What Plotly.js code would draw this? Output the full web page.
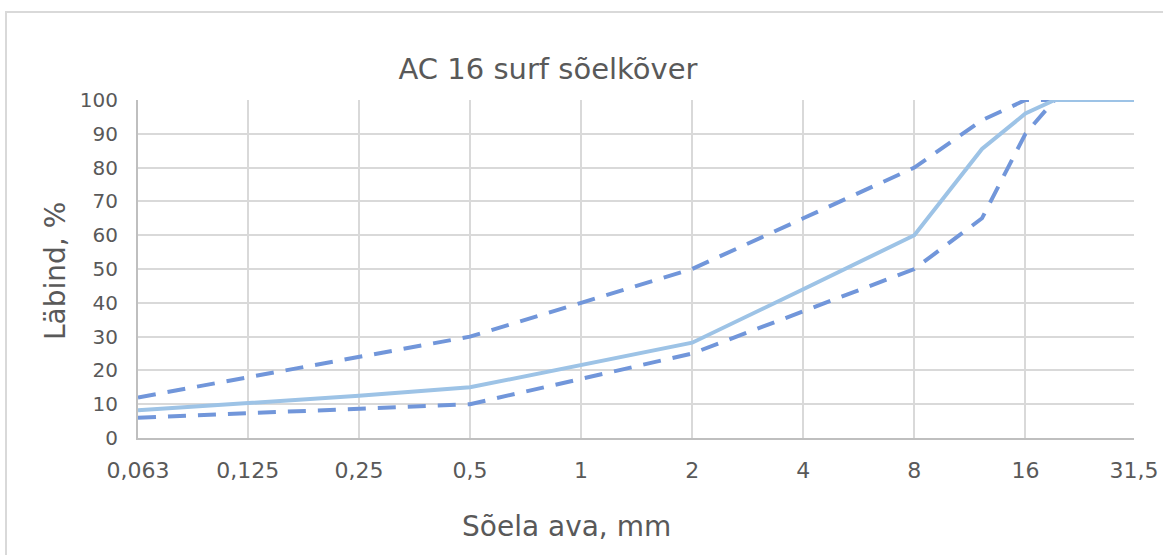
<!DOCTYPE html>
<html>
<head>
<meta charset="utf-8">
<script src="https://cdn.plot.ly/plotly-3.0.1.min.js"></script>
<style>
  html, body { margin: 0; padding: 0; background: #ffffff; overflow: hidden; }
  #chart { position: absolute; left: 0; top: 0; width: 1163px; height: 555px; }
  #frame { position: absolute; left: 5px; top: 11px; width: 1200px; height: 600px;
           border: 2px solid #d9d9d9; pointer-events: none; }
</style>
</head>
<body>
<div id="chart"></div>
<div id="frame"></div>
<script>
// Sieve sizes (mm) and passing percentages
const sieves = [0.063, 0.125, 0.25, 0.5, 1, 2, 4, 8, 12.2, 16, 19.2, 31.5];
const lowerLimit = [6, 7.3, 8.7, 10, 17.5, 25, 37.5, 50, 65, 90, 100, 100];
const upperLimit = [12, 18, 24, 30, 40, 50, 65, 80, 94, 100, 100, 100];
const gradingCurve = [8.2, 10.3, 12.5, 15, 21.7, 28.2, 44, 60, 85.5, 96, 100, 100];

const tickValues = [0.063, 0.125, 0.25, 0.5, 1, 2, 4, 8, 16, 31.5];
const tickLabels = ['0,063', '0,125', '0,25', '0,5', '1', '2', '4', '8', '16', '31,5'];

const titleText = 'AC 16 surf sõelkõver';
const xTitle = 'Sõela ava, mm';
const yTitle = 'Läbind, %';

const FONT = 'DejaVu Sans, Verdana, sans-serif';
const TXT = '#595959';

const traces = [
  { x: sieves, y: lowerLimit, type: 'scatter', mode: 'lines', name: 'Alampiir',
    line: { color: '#7196da', width: 4, dash: '18px,12px' }, hoverinfo: 'x+y' },
  { x: sieves, y: upperLimit, type: 'scatter', mode: 'lines', name: 'Ülempiir',
    line: { color: '#7196da', width: 4, dash: '18px,12px' }, hoverinfo: 'x+y' },
  { x: sieves, y: gradingCurve, type: 'scatter', mode: 'lines', name: 'Sõelkõver',
    line: { color: '#9dc3e6', width: 4 }, hoverinfo: 'x+y' }
];

const layout = {
  width: 1163, height: 555,
  margin: { l: 138, r: 29, t: 100, b: 117, pad: 0 },
  paper_bgcolor: 'rgba(0,0,0,0)',
  plot_bgcolor: 'rgba(0,0,0,0)',
  showlegend: false,
  font: { family: FONT, color: TXT },
  title: { text: titleText, font: { family: FONT, size: 29, color: TXT },
           x: 548 / 1163, xref: 'container', xanchor: 'center',
           y: 1 - 69 / 555, yref: 'container', yanchor: 'middle' },
  xaxis: {
    type: 'log',
    range: [Math.log10(0.063), Math.log10(31.5)],
    tickmode: 'array', tickvals: tickValues, ticktext: tickLabels,
    showgrid: true, gridcolor: '#d9d9d9', gridwidth: 2,
    showline: true, linecolor: '#bfbfbf', linewidth: 2,
    ticks: '', zeroline: false,
    tickfont: { family: FONT, size: 22, color: TXT },
    ticklabelstandoff: 12
  },
  yaxis: {
    range: [0, 100], dtick: 10, tick0: 0,
    showgrid: true, gridcolor: '#d9d9d9', gridwidth: 2,
    showline: true, linecolor: '#bfbfbf', linewidth: 2,
    ticks: '', zeroline: false,
    tickfont: { family: FONT, size: 20, color: TXT },
    ticklabelstandoff: 14
  },
  annotations: [
    { text: xTitle, xref: 'paper', yref: 'paper', x: (566 - 138) / 996, y: (438 - 526) / 338,
      xanchor: 'center', yanchor: 'middle', showarrow: false,
      font: { family: FONT, size: 28, color: TXT } },
    { text: yTitle, xref: 'paper', yref: 'paper', x: (55 - 138) / 996, y: (438 - 271) / 338,
      xanchor: 'center', yanchor: 'middle', showarrow: false, textangle: -90,
      font: { family: FONT, size: 28, color: TXT } }
  ]
};

Plotly.newPlot('chart', traces, layout, { displayModeBar: false, staticPlot: true });
</script>
</body>
</html>
